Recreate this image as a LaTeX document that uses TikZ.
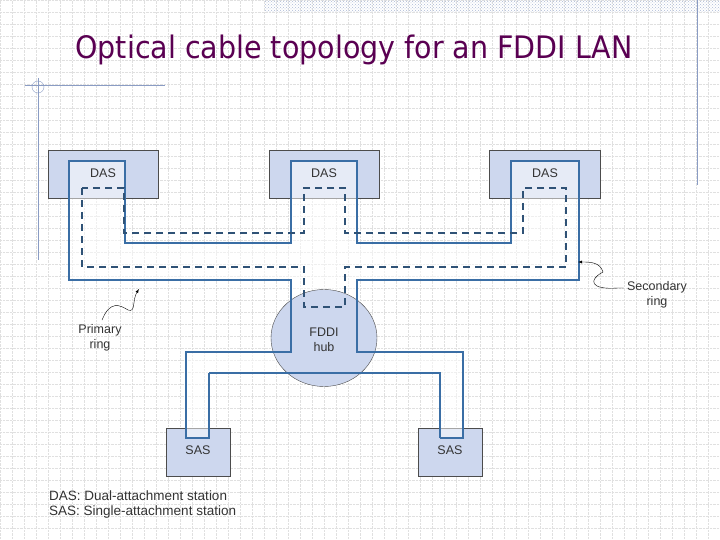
\documentclass[tikz,border=0pt]{standalone}
\usepackage{fontspec}
\setmainfont{Liberation Sans}
\newfontfamily\titlefont{DejaVu Sans}
\usetikzlibrary{positioning,patterns,shapes.geometric}
\definecolor{boxfill}{HTML}{CDD7EE}
\definecolor{ringblue}{HTML}{3A6EA5}
\definecolor{dashblue}{HTML}{2F5276}
\definecolor{titlepurple}{HTML}{5A0052}
\definecolor{deco}{HTML}{8A9CC4}
\tikzset{
  station/.style={draw=black!70,fill=boxfill,minimum height=48pt},
  lbl/.style={font=\fontsize{12.5}{14}\selectfont,text=black!80,align=center},
  primary/.style={draw=ringblue,line width=2.4pt,line join=miter},
  secondary/.style={draw=dashblue,line width=2.2pt,dash pattern=on 7pt off 5pt},
  pointer/.style={-latex,black,thin}
}
\begin{document}
\begin{tikzpicture}[x=1pt,y=-1pt]
\useasboundingbox (0,0) rectangle (720,540);
\fill[white] (0,0) rectangle (720,540);
% slide background
\draw[black!12,densely dotted,step=12pt] (0,0) grid (720,540);
\fill[pattern=crosshatch dots,pattern color=deco!70] (265,0) rectangle (720,12);
\draw[deco] (697,0) -- (697,185);
\draw[deco] (25,85) -- (165,85);
\draw[deco] (38,78) -- (38,260);
\draw[deco] (38,87) circle (6pt);
\node[font=\titlefont\fontsize{31}{34}\selectfont,text=titlepurple,xscale=0.92] (title) at (354,50) {Optical cable topology for an FDDI LAN};

% stations
\node[station,minimum width=110pt] (das1) at (103,174) {};
\node[station,minimum width=110pt] (das2) at (324,174) {};
\node[station,minimum width=111pt] (das3) at (544.5,174) {};
\node[station,minimum width=64pt] (sas1) at (198,452) {};
\node[station,minimum width=64pt] (sas2) at (450,452) {};

% primary ring, filled interior
\fill[white,opacity=0.5] (69,161) -- (69,280) -- (291,280) -- (291,352) -- (186,352) -- (186,438)
  -- (209,438) -- (209,373) -- (440,373) -- (440,438) -- (463,438) -- (463,352) -- (357,352)
  -- (357,280) -- (579,280) -- (579,161) -- (511,161) -- (511,243) -- (357,243) -- (357,161)
  -- (291,161) -- (291,243) -- (125,243) -- (125,161) -- cycle;
\node[draw=black!70,fill=boxfill,ellipse,minimum width=106pt,minimum height=97pt,inner sep=0pt] (hub) at (324,338) {};
\draw[primary] (69,161) -- (69,280) -- (291,280) -- (291,352) -- (186,352) -- (186,438)
  -- (209,438) -- (209,373);
\draw[ringblue,line width=1.4pt] (209,373) -- (440,373) -- (440,438);
\draw[primary] (440,438) -- (463,438) -- (463,352) -- (357,352)
  -- (357,280) -- (579,280) -- (579,161) -- (511,161) -- (511,243) -- (357,243) -- (357,161)
  -- (291,161) -- (291,243) -- (125,243) -- (125,161) -- (69,161) -- (69,165);

% secondary ring
\draw[secondary] (82,188) -- (82,267) -- (304,267) -- (304,307) -- (345,307) -- (345,267)
  -- (566,267) -- (566,188) -- (523,188) -- (523,233) -- (345,233) -- (345,188)
  -- (304,188) -- (304,233) -- (124,233) -- (124,188) -- cycle;

% labels
\node[lbl] (das1l) at (103,173) {DAS};
\node[lbl] (das2l) at (324,173) {DAS};
\node[lbl] (das3l) at (545,173) {DAS};
\node[lbl] (sas1l) at (198,450) {SAS};
\node[lbl] (sas2l) at (450,450) {SAS};
\node[lbl,font=\fontsize{12.5}{15}\selectfont] (hubl) at (324,340) {FDDI\\hub};
\node[lbl,font=\fontsize{12.5}{15}\selectfont] (prim) at (100,338) {Primary\\ring};
\node[lbl,font=\fontsize{12.5}{15}\selectfont] (sec) at (657,295) {Secondary\\ring};
\node[lbl,anchor=west,align=left,font=\fontsize{13.5}{15}\selectfont,inner sep=0pt] (legend) at (49,505)
  {DAS: Dual-attachment station\\SAS: Single-attachment station};

% pointers
\coordinate (primtip) at (139,289);
\coordinate (sectip) at (578,262);
\draw[pointer] (prim.north) ++(2,-1) .. controls (110,300) and (120,305) .. (128,310)
  .. controls (136,313) and (132,300) .. (primtip);
\draw[pointer] (sec.west) ++(0,-7) -- ++(-6,0) .. controls (590,290) and (588,280) .. (603,272)
  .. controls (600,262) and (590,262) .. (sectip);
\end{tikzpicture}
\end{document}
